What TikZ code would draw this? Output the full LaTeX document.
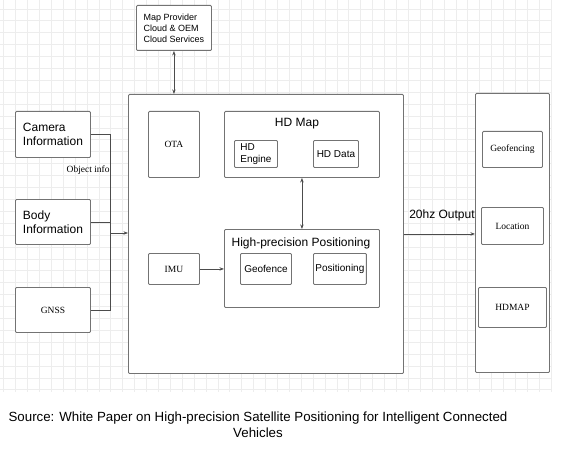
\documentclass[tikz,border=0pt]{standalone}
\usepackage{fontspec}
\setmainfont{Liberation Sans}
\newfontfamily\tnr{Liberation Serif}
\usetikzlibrary{arrows.meta}
\tikzset{
  blk/.style     = {draw=black!55, line width=0.9pt, rounded corners=1pt,
                    fill=white, inner sep=2pt, anchor=north west},
  sanslbl/.style = {font=\fontsize{12}{14}\selectfont, align=left},
  smlbl/.style   = {font=\fontsize{10}{11.5}\selectfont, align=left},
  serlbl/.style  = {font=\tnr\fontsize{9.5}{11}\selectfont},
  wire/.style    = {draw=black!70, line width=0.7pt},
  arr/.style     = {wire, -{Stealth[length=1.6mm,width=1.2mm]}},
  darr/.style    = {wire, {Stealth[length=1.6mm,width=1.2mm]}-{Stealth[length=1.6mm,width=1.2mm]}},
  gridln/.style  = {draw=gray!14, line width=0.8pt}
}

\begin{document}
\begin{tikzpicture}[x=1pt, y=-1pt]
  \useasboundingbox[fill=white] (0,0) rectangle (571,452);
  % background grid
  \foreach \gx in {3.7,15.6,...,552} \draw[gridln] (\gx,0) -- (\gx,392);
  \foreach \gy in {9,20.9,...,392} \draw[gridln] (0,\gy) -- (552,\gy);

  % inputs
  \node[blk, sanslbl, minimum width=75, minimum height=46] (cam) at (15,111) {Camera\\Information};
  \node[blk, sanslbl, minimum width=75, minimum height=45] (body) at (15,199) {Body\\Information};
  \node[blk, serlbl, minimum width=75, minimum height=45] (gnss) at (15,287) {GNSS};
  \node[blk, font=\fontsize{9}{11}\selectfont, align=left, minimum width=75, minimum height=45]
       (cloud) at (136,5) {Map Provider\\Cloud \& OEM\\Cloud Services};

  % main unit
  \node[blk, minimum width=275, minimum height=279] (main) at (128,94) {};
  \node[blk, serlbl, minimum width=51, minimum height=66] (ota) at (148,111) {OTA};
  \node[blk, minimum width=155, minimum height=66] (hdmap) at (224,111) {};
  \node[sanslbl, inner sep=0pt] (hdmapt) at (297,124) {HD Map};
  \node[blk, smlbl, minimum width=43, minimum height=27] (hdeng) at (234,140) {HD\\Engine};
  \node[blk, smlbl, minimum width=45, minimum height=27] (hddata) at (313,140) {HD Data};
  \node[blk, minimum width=155, minimum height=78] (hpp) at (224,229) {};
  \node[sanslbl, inner sep=0pt] (hppt) at (301,243) {High-precision Positioning};
  \node[blk, smlbl, minimum width=51, minimum height=31] (geof) at (240,253) {Geofence};
  \node[blk, smlbl, minimum width=51, minimum height=31] (posn) at (313,253) {Positioning};
  \node[blk, serlbl, minimum width=51, minimum height=31] (imu) at (148,253) {IMU};

  % outputs
  \node[blk, minimum width=74, minimum height=279] (outbox) at (475,93) {};
  \node[blk, serlbl, minimum width=60, minimum height=36] (geofc) at (482,131) {Geofencing};
  \node[blk, serlbl, minimum width=62, minimum height=37] (loc) at (481,207) {Location};
  \node[blk, serlbl, minimum width=68, minimum height=40] (hdmp) at (478,287) {HDMAP};

  % connectors
  \coordinate (jn) at (110,233);
  \draw[wire] (cam.east) -| (jn)
        node[pos=0.68, anchor=east, inner sep=0pt, font=\tnr\fontsize{9.5}{11}\selectfont]{Object info};
  \draw[wire] (gnss.east) -| (jn);
  \draw[wire] (body.east) -- (body.east -| jn);
  \draw[arr] (jn) -- (jn -| main.west);
  \draw[darr] (cloud.south) -- (cloud.south |- main.north);
  \draw[darr] (hdmap.south) -- (hpp.north);
  \draw[arr] (imu.east) -- (imu.east -| hpp.west);
  \draw[arr] (main.east) -- (main.east -| outbox.west)
        node[pos=1, anchor=base east, yshift=15pt, inner sep=0pt, sanslbl]{20hz Output};

  % caption
  \node[font=\fontsize{13.3}{16}\selectfont, align=center] (src) at (258,425)
       {Source: White Paper on High-precision Satellite Positioning for Intelligent Connected\\Vehicles};
\end{tikzpicture}
\end{document}
